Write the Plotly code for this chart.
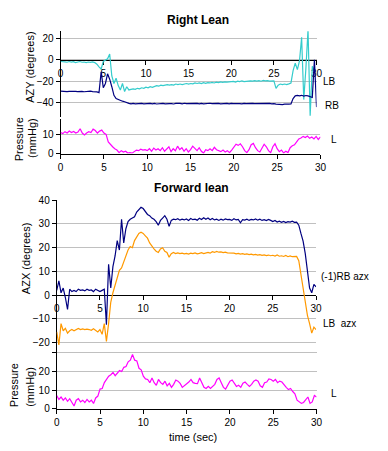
import numpy as np
import plotly.graph_objects as go

# time axis (seconds), 0.25 s steps
t = np.round(np.arange(121) * 0.25, 2)

# ---- Right Lean: AZY (degrees) ----
lb_azy = [
    -1.5, -2.0, -1.8, -2.2,
    -1.5, -2.0, -1.7, -2.5,
    -2.0, -1.5, -2.2, -2.0,
    -2.5, -2.0, -2.3, -1.8,
    -2.5, -4.0, -6.5, -8.5,
    -1.5, -0.5, 1.0, 5.5,
    -15, -22, -17, -24,
    -28, -22, -29.5, -25,
    -28, -27.5, -27, -27.5,
    -26.5, -27, -26, -26.5,
    -25.5, -26, -25, -25.5,
    -24.5, -24, -24.5, -23.5,
    -24, -23.5, -23, -23.5,
    -23, -23.5, -22.5, -23,
    -22.5, -23, -22.5, -22,
    -22.5, -22, -22.3, -21.5,
    -22, -21.5, -22, -21.3,
    -21.8, -21.2, -21.5, -21,
    -21.5, -20.8, -21.2, -20.5,
    -21, -20.5, -20.8, -20.3,
    -20.5, -20, -20.6, -19.8,
    -20.3, -19.5, -20.2, -19.8,
    -20, -19.5, -19.8, -19.3,
    -19.8, -19.4, -19.9, -19.2,
    -19.6, -19.3, -19.8, -19.4,
    -19.5, -26.5, -23.5, -22.5,
    -23, -22.5, -23, -22.3,
    -21.5, -10, -3, -9,
    -1, 21, -37, -8,
    28, -52, -6, -11,
    None,
]
rb_azy = [
    -29.2, -29.5, -29.3, -29.6,
    -29.4, -29.2, -29.6, -29.3,
    -29.5, -29.2, -29.4, -29.7,
    -29.3, -29.5, -29.2, -29.6,
    -29.4, -29.8, -30.5, -11,
    -26, -22, -13, -18,
    -25, -33, -36, -37,
    -37.5, -38.5, -39, -40,
    -40.5, -41, -40.5, -41,
    -40.8, -41.2, -40.6, -41,
    -40.7, -41, -40.5, -40.9,
    -40.6, -41.1, -40.7, -40.9,
    -40.5, -41, -40.6, -40.8,
    -40.7, -41.1, -40.5, -40.9,
    -40.6, -40.9, -40.4, -40.8,
    -40.7, -41, -40.5, -40.8,
    -40.6, -40.9, -40.5, -41,
    -40.7, -40.9, -40.4, -40.8,
    -40.6, -41, -40.5, -40.9,
    -40.7, -40.9, -40.6, -41,
    -40.5, -40.8, -40.6, -40.9,
    -40.7, -41, -40.5, -40.8,
    -40.6, -40.9, -40.5, -40.8,
    -40.7, -41, -40.6, -40.9,
    -40.6, -40.8, -40.5, -40.9,
    -40.7, -41.2, -41.5, -41.3,
    -41.6, -41.2, -41.5, -41.3,
    -41, -36, -33.5, -33,
    -33.5, -33, -33.8, -33.2,
    -33.5, -34, -35, 0,
    -44,
]
# ---- Right Lean: Pressure (mmHg) ----
p_right = [
    10.8, 10.2, 11.2, 10.5,
    11.5, 10.8, 11.3, 10.5,
    11.0, 12.7, 10.5, 9.5,
    10.5, 11.2, 10.8, 12.5,
    11.8, 10.5, 11.5, 12.0,
    10.5, 9.8, 6.0, 4.5,
    3.5, 2.5, 1.8, 0.5,
    1.5, 0.8, 1.2, 0.3,
    0.5, 0.2, 1.0, 1.8,
    1.5, 2.2, 1.8, 2.0,
    1.5, 2.5, 1.2, 2.8,
    1.8, 2.5, 1.5, 3.0,
    1.2, 2.5, 3.5, 1.0,
    2.5, 1.5, 3.8, 2.0,
    3.0, 1.2, 2.5, 0.8,
    2.0, 3.8, 2.5, 1.5,
    3.0, 1.2, 0.3, 2.0,
    1.5, 2.5, 1.5, 3.2,
    2.0, 1.5, 1.0, 1.8,
    0.8, 1.5, 0.5, 1.8,
    3.5, 4.8, 4.2, 5.0,
    3.5, 1.5, 0.5, 2.0,
    4.5, 5.2, 3.0, 1.5,
    0.8, 2.5, 4.8, 3.5,
    1.5, 0.5, 3.5, 5.0,
    2.5, 1.0, 1.8, 0.3,
    1.2, 0.5, 3.0, 4.0,
    4.5, 6.0, 7.5, 8.0,
    8.8, 8.2, 9.0, 7.8,
    8.5, 7.5, 8.8, 7.2,
    8.5,
]
# ---- Forward lean: AZX (degrees) ----
rb_azx = [
    2.0, 6.0, 1.0, 3.0,
    -1.0, -6.0, 2.5, 1.5,
    2.0, 1.5, 2.5, 2.0,
    2.2, 1.8, 2.5, 2.0,
    2.2, 1.5, 2.5, 2.0,
    1.5, 2.0, 2.5, -12.5,
    13.0, 3.0, 12.0, 16.5,
    23.0, 19.0, 32.0, 22.0,
    28.0, 31.0, 32.0, 32.5,
    33.0, 35.0, 36.0, 37.0,
    36.5, 35.0, 34.0, 33.5,
    32.5, 32.0, 31.0, 29.5,
    31.5, 32.5, 33.5, 32.0,
    29.0, 31.5, 32.0, 31.8,
    32.2, 31.6, 32.0, 31.7,
    32.1, 31.5, 32.3, 31.8,
    32.0, 31.6, 32.4, 31.9,
    32.6, 32.0, 32.5, 31.8,
    32.3, 31.7, 32.0, 31.5,
    32.0, 31.6, 32.1, 31.8,
    31.9, 31.5, 32.2, 31.7,
    31.9, 30.5, 31.8, 31.6,
    32.0, 31.5, 31.9, 31.7,
    32.1, 31.6, 32.0, 31.5,
    31.8, 31.4, 31.9, 31.5,
    31.0, 31.5, 30.8, 31.2,
    30.7, 31.1, 30.6, 31.0,
    30.8, 31.2, 30.7, 30.8,
    29.5, 26.0, 22.8, 17.5,
    10.0, 3.0, 1.0, 4.5,
    3.5,
]
lb_azx = [
    -15.5, -21.0, -12.0, -15.0,
    -14.0, -16.0, -15.0, -14.5,
    -15.0, -14.5, -14.0, -14.5,
    -14.2, -14.5, -14.3, -14.5,
    -14.8, -14.2, -15.0, -15.5,
    -14.5, -16.5, -12.0, -19.5,
    -12.0, -3.0, 1.0, 4.5,
    8.0, 10.5, 11.5, 14.0,
    16.0, 19.0, 20.5, 20.0,
    23.0, 24.5, 26.0, 26.5,
    26.0, 25.0, 24.0, 22.0,
    20.5, 19.5, 18.5, 18.0,
    19.5, 20.0, 18.5, 18.0,
    16.0, 17.5, 18.0, 17.5,
    17.8, 17.5, 17.7, 17.4,
    17.6, 17.3, 17.7, 17.5,
    17.8, 17.4, 17.6, 17.9,
    17.5, 17.8, 18.0, 17.7,
    18.3, 18.0, 18.4, 18.1,
    18.2, 17.9, 18.1, 17.8,
    17.8, 17.5, 17.7, 17.4,
    17.6, 17.3, 17.5, 17.2,
    17.4, 17.1, 17.3, 17.0,
    17.2, 16.9, 17.1, 16.8,
    17.0, 16.7, 16.9, 16.6,
    16.8, 16.5, 16.9, 16.4,
    16.6, 16.3, 16.7, 16.2,
    16.5, 16.2, 16.4, 16.3,
    14.5, 9.0, 2.3, -2.8,
    -8.5, -12.0, -16.0, -13.5,
    -14.5,
]
# ---- Forward lean: Pressure (mmHg) ----
p_fwd = [
    7.1, 5.0, 6.3, 4.6,
    5.8, 4.0, 5.4, 3.7,
    1.5, 4.6, 5.4, 3.7,
    4.6, 3.4, 5.0, 3.7,
    4.6, 2.9, 5.8, 6.8,
    10.5, 10.8, 13.9, 15.6,
    17.3, 18.1, 19.3, 17.6,
    19.0, 20.3, 19.8, 22.0,
    22.4, 24.9, 25.8, 28.8,
    25.8, 25.4, 21.5, 20.7,
    17.3, 15.9, 15.6, 13.9,
    16.4, 13.9, 12.5, 15.6,
    13.9, 13.0, 14.7, 12.2,
    13.5, 11.4, 13.0, 15.3,
    14.7, 13.5, 11.4, 12.2,
    13.0, 14.2, 15.6, 13.9,
    13.5, 13.4, 16.4, 13.9,
    11.4, 10.8, 11.9, 10.8,
    12.2, 13.0, 15.6, 16.4,
    13.9, 11.4, 10.5, 12.5,
    14.7, 15.3, 13.9, 11.9,
    12.5, 11.4, 13.6, 14.2,
    13.0, 11.9, 13.0, 14.7,
    15.3, 14.7, 12.2, 11.4,
    13.9, 14.2, 15.9, 15.6,
    14.7, 15.6, 13.9, 14.7,
    14.2, 12.5, 11.4, 10.2,
    10.8, 9.2, 8.0, 4.6,
    3.7, 2.9, 3.4, 4.6,
    6.3, 2.9, 3.7, 7.1,
    6.3,
]

x_ticks = [0, 5, 10, 15, 20, 25, 30]

W, H = 388, 451
FONT = "Liberation Sans, Arial, sans-serif"
NAVY, CYAN, MAG, ORANGE = "#000080", "#33CCCC", "#FF00FF", "#FF9900"
LW = 1.2


def px(x):
    return x / W


def py(y):
    return 1 - y / H


fig = go.Figure()
fig.add_trace(go.Scatter(x=t, y=lb_azy, xaxis="x", yaxis="y", mode="lines",
                         line=dict(color=CYAN, width=LW)))
fig.add_trace(go.Scatter(x=t, y=rb_azy, xaxis="x", yaxis="y", mode="lines",
                         line=dict(color=NAVY, width=LW)))
fig.add_trace(go.Scatter(x=t, y=p_right, xaxis="x2", yaxis="y2", mode="lines",
                         line=dict(color=MAG, width=LW)))
fig.add_trace(go.Scatter(x=t, y=lb_azx, xaxis="x3", yaxis="y3", mode="lines",
                         line=dict(color=ORANGE, width=LW)))
fig.add_trace(go.Scatter(x=t, y=rb_azx, xaxis="x3", yaxis="y3", mode="lines",
                         line=dict(color=NAVY, width=LW)))
fig.add_trace(go.Scatter(x=t, y=p_fwd, xaxis="x4", yaxis="y4", mode="lines",
                         line=dict(color=MAG, width=LW)))

common = dict(showline=True, linecolor="black", linewidth=1, ticks="outside",
              ticklen=4, tickcolor="black", tickwidth=1,
              tickfont=dict(family=FONT, size=10, color="black"),
              layer="below traces", zeroline=False, fixedrange=True)

# panel geometry
d1 = [py(115), py(27)]
r1 = [-53.4, 26.6]
d2 = [py(152.3), py(117)]
r2 = [0, 17.6]
d3 = [py(356), py(200)]
r3 = [-24.1, 40.05]
d4 = [py(414), py(353)]
r4 = [0, 31.5]


def zero_pos(dom, rng):
    return dom[0] + (0 - rng[0]) / (rng[1] - rng[0]) * (dom[1] - dom[0])


xcommon = dict(common, range=[0, 30], tickvals=x_ticks, showgrid=False)
ycommon = dict(common, showgrid=True, gridcolor="#C0C0C0", gridwidth=1)

fig.update_layout(
    width=W, height=H, margin=dict(l=0, r=0, t=0, b=0),
    paper_bgcolor="white", plot_bgcolor="white", showlegend=False,
    hovermode=False,
    xaxis=dict(xcommon, domain=[px(59), px(321)], anchor="free",
               position=zero_pos(d1, r1)),
    yaxis=dict(ycommon, domain=d1, range=r1, anchor="x",
               tickvals=[-40, -20, 0, 20]),
    xaxis2=dict(xcommon, domain=[px(59), px(325)], anchor="y2"),
    yaxis2=dict(ycommon, domain=d2, range=r2, anchor="x2", tickvals=[0, 10]),
    xaxis3=dict(xcommon, domain=[px(55), px(320.5)], anchor="free",
                position=zero_pos(d3, r3)),
    yaxis3=dict(ycommon, domain=d3, range=r3, anchor="x3",
                tickvals=[-20, -10, 0, 10, 20, 30, 40]),
    xaxis4=dict(xcommon, domain=[px(55), px(321)], anchor="y4"),
    yaxis4=dict(ycommon, domain=d4, range=r4, anchor="x4",
                tickvals=[0, 10, 20, 30], ticktext=["0", "10", "20", ""]),
)


def ann(text, x, y, xanchor="left", size=10, angle=0, bold=False):
    fig.add_annotation(text=("<b>%s</b>" % text) if bold else text,
                       x=px(x), y=py(y), xref="paper", yref="paper",
                       xanchor=xanchor, yanchor="middle", showarrow=False,
                       textangle=angle,
                       font=dict(family=FONT, size=size, color="black"))


ann("Right Lean", 200, 15, "center", 12, bold=True)
ann("Forward lean", 192.5, 188, "center", 12, bold=True)
ann("time (sec)", 195, 443, "center", 11)
ann("AZY (degrees)", 28, 64, "center", 11, -90)
ann("Pressure", 16, 138, "center", 11, -90)
ann("(mmHg)", 29, 136, "center", 11, -90)
ann("AZX (degrees)", 23, 259, "center", 11, -90)
ann("Pressure", 12, 390, "center", 11, -90)
ann("(mmHg)", 28, 391, "center", 11, -90)
ann("LB", 326, 78)
ann("RB", 328, 103)
ann("L", 334, 138)
ann("(-1)RB azx", 323, 278)
ann("LB\u00a0\u00a0azx", 326, 326)
ann("L", 334, 398)

fig.write_html("out.html",
               config={"displayModeBar": False, "staticPlot": True},
               post_script="document.body.style.margin='0';"
                           "document.documentElement.style.overflow='hidden';")
